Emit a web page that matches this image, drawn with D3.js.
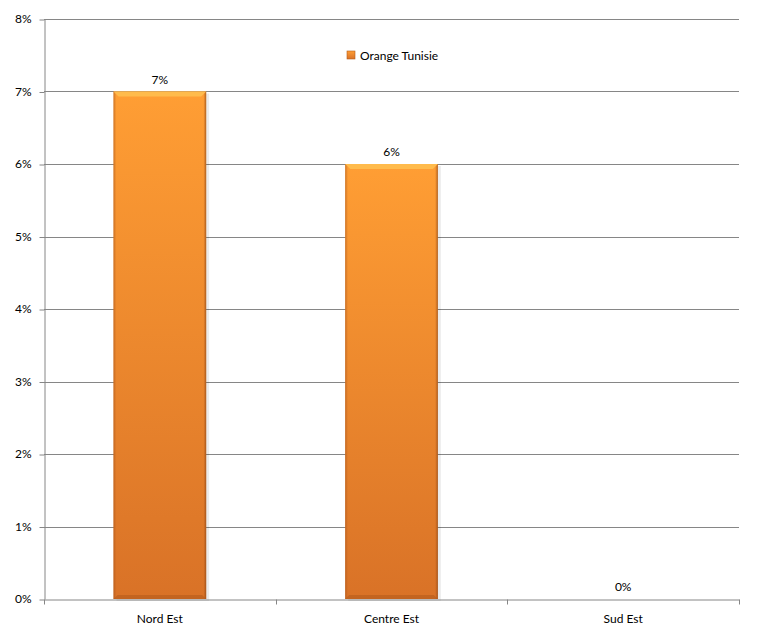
<!DOCTYPE html>
<html>
<head>
<meta charset="utf-8">
<script src="https://cdn.jsdelivr.net/npm/d3@7"></script>
<style>
  body { margin: 0; background: #fff; }
  text { font-family: Lato, "Open Sans", sans-serif; font-size: 12px; fill: #000; }
</style>
</head>
<body>
<svg id="chart"></svg>
<script>
// chart data
var categories = ["Nord Est", "Centre Est", "Sud Est"];
var values = [0.07, 0.06, 0.00];
var yTicks = [0, 0.01, 0.02, 0.03, 0.04, 0.05, 0.06, 0.07, 0.08];
var seriesName = "Orange Tunisie";

var width = 784, height = 644;
var margin = {top: 19, right: 45, bottom: 45, left: 44};
var fontFam = "Lato, 'Open Sans', sans-serif";

var svg = d3.select("#chart")
  .attr("width", width)
  .attr("height", height);

var defs = svg.append("defs");
var grad = defs.append("linearGradient")
  .attr("id", "barGrad")
  .attr("x1", 0).attr("y1", 0).attr("x2", 0).attr("y2", 1);
grad.append("stop").attr("offset", "0%").attr("stop-color", "#ff9e34");
grad.append("stop").attr("offset", "100%").attr("stop-color", "#d97227");

var sideGrad = defs.append("linearGradient")
  .attr("id", "sideGrad")
  .attr("x1", 0).attr("y1", 0).attr("x2", 1).attr("y2", 0);
sideGrad.append("stop").attr("offset", "0%").attr("stop-color", "#a5521a").attr("stop-opacity", 0.55);
sideGrad.append("stop").attr("offset", "3%").attr("stop-color", "#a5521a").attr("stop-opacity", 0);
sideGrad.append("stop").attr("offset", "97%").attr("stop-color", "#a5521a").attr("stop-opacity", 0);
sideGrad.append("stop").attr("offset", "100%").attr("stop-color", "#8a4312").attr("stop-opacity", 0.7);

var x = d3.scaleBand()
  .domain(categories)
  .range([margin.left, width - margin.right])
  .paddingInner(0.6)
  .paddingOuter(0.3);

var y = d3.scaleLinear()
  .domain([0, 0.08])
  .range([height - margin.bottom, margin.top]);

// grid lines
svg.append("g")
  .selectAll("line")
  .data(yTicks.slice(1))
  .enter().append("line")
  .attr("x1", margin.left)
  .attr("x2", width - margin.right)
  .attr("y1", function(d) { return Math.round(y(d)) + 0.5; })
  .attr("y2", function(d) { return Math.round(y(d)) + 0.5; })
  .attr("stroke", "#868686")
  .attr("stroke-width", 1);

// y axis
var yAxis = svg.append("g")
  .attr("transform", "translate(" + (margin.left + 0.5) + ",0)")
  .call(d3.axisLeft(y).tickValues(yTicks).tickFormat(d3.format(".0%")).tickSize(5).tickPadding(8).tickSizeOuter(0));
yAxis.selectAll("line, path").attr("stroke", "#868686");
yAxis.selectAll("text").style("font-family", fontFam).style("font-size", "12px").attr("fill", "#000");
yAxis.selectAll(".tick line").attr("transform", "translate(0,0.5)");

// bars
var bars = svg.append("g")
  .selectAll("g")
  .data(values)
  .enter().append("g")
  .filter(function(d) { return d > 0; });

bars.append("rect")
  .attr("x", function(d) { return x(categories[values.indexOf(d)]) + 3; })
  .attr("y", function(d) { return y(d) + 2; })
  .attr("width", x.bandwidth())
  .attr("height", function(d) { return y(0) - y(d); })
  .attr("fill", "#000")
  .attr("opacity", 0.08);

bars.append("rect")
  .attr("x", function(d) { return x(categories[values.indexOf(d)]); })
  .attr("y", function(d) { return y(d); })
  .attr("width", x.bandwidth())
  .attr("height", function(d) { return y(0) - y(d); })
  .attr("fill", "url(#barGrad)");

bars.append("rect")
  .attr("x", function(d) { return x(categories[values.indexOf(d)]); })
  .attr("y", function(d) { return y(d); })
  .attr("width", x.bandwidth())
  .attr("height", function(d) { return y(0) - y(d); })
  .attr("fill", "url(#sideGrad)");

// top bevel
bars.append("polygon")
  .attr("points", function(d) {
    var x0 = x(categories[values.indexOf(d)]), x1 = x0 + x.bandwidth(), t = y(d);
    return [[x0, t], [x1, t], [x1 - 5, t + 5], [x0 + 5, t + 5]].join(" ");
  })
  .attr("fill", "#ffbb4c");

// bottom bevel
bars.append("polygon")
  .attr("points", function(d) {
    var x0 = x(categories[values.indexOf(d)]), x1 = x0 + x.bandwidth(), b = y(0);
    return [[x0, b], [x1, b], [x1 - 4, b - 4], [x0 + 4, b - 4]].join(" ");
  })
  .attr("fill", "#b45c1c")
  .attr("opacity", 0.6);

// x axis
var xAxis = svg.append("g")
  .attr("transform", "translate(0," + (Math.round(y(0)) + 0.5) + ")")
  .call(d3.axisBottom(x).tickSize(0).tickPadding(15).tickSizeOuter(0));
xAxis.select("path").attr("stroke", "#868686");
xAxis.selectAll("text").style("font-family", fontFam).style("font-size", "12px").attr("fill", "#000");

// category separator ticks
var step = x.step();
var bounds = d3.range(categories.length + 1).map(function(i) { return margin.left + i * step; });
xAxis.selectAll(".sep")
  .data(bounds)
  .enter().append("line")
  .attr("class", "sep")
  .attr("x1", function(d) { return Math.round(d) + 0.5; })
  .attr("x2", function(d) { return Math.round(d) + 0.5; })
  .attr("y1", 0)
  .attr("y2", 5)
  .attr("stroke", "#868686");

// value labels
svg.append("g")
  .selectAll("text")
  .data(values)
  .enter().append("text")
  .attr("x", function(d, i) { return x(categories[i]) + x.bandwidth() / 2; })
  .attr("y", function(d) { return y(d) - 8; })
  .attr("text-anchor", "middle")
  .text(function(d) { return d3.format(".0%")(d); });

// legend
var legend = svg.append("g").attr("transform", "translate(347,51)");
legend.append("rect")
  .attr("width", 8).attr("height", 8)
  .attr("fill", "url(#barGrad)")
  .attr("stroke", "#b45c1c").attr("stroke-width", 0.6);
legend.append("text")
  .attr("x", 13).attr("y", 9)
  .text(seriesName);
</script>
</body>
</html>
